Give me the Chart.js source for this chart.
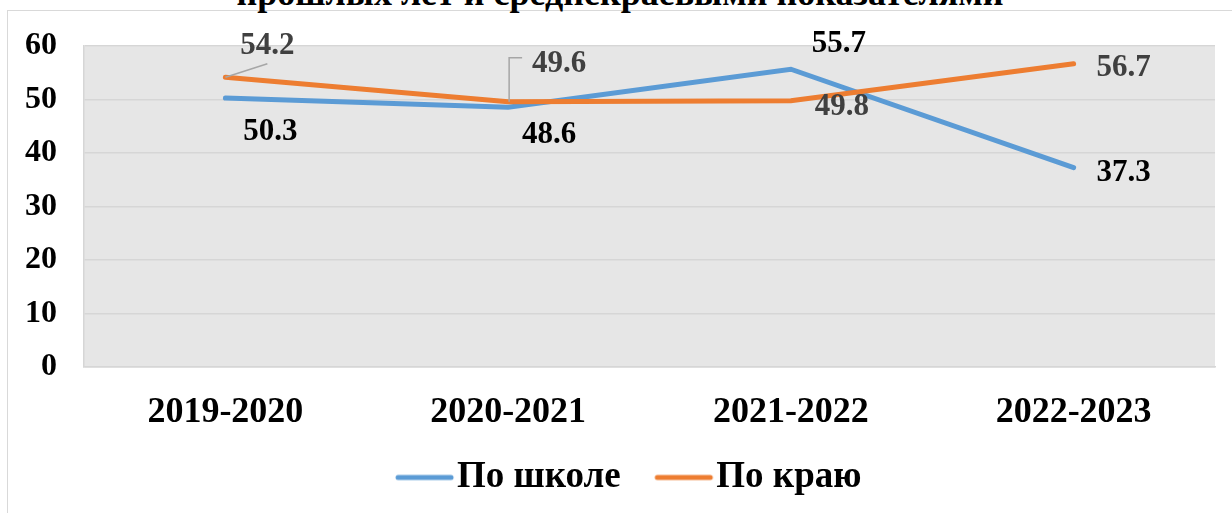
<!DOCTYPE html>
<html>
<head>
<meta charset="utf-8">
<script src="https://cdn.jsdelivr.net/npm/chart.js@4/dist/chart.umd.min.js"></script>
<style>
    html, body { margin: 0; padding: 0; background: #fff; overflow: hidden; }
    #wrap { position: relative; width: 1232px; height: 513px; overflow: hidden; }
    #frame { position: absolute; left: 7px; top: 10px; width: 1300px; height: 600px; border: 1.5px solid #d9d9d9; }
    #title { position: absolute; left: 0; top: -25px; width: 1240px; text-align: center;
             font: bold 36px/36px "Liberation Serif", serif; color: #000; white-space: nowrap; }
    #box { position: absolute; left: 0; top: 0; width: 1232px; height: 506px; }
</style>
</head>
<body>
<div id="wrap">
    <div id="frame"></div>
    <div id="title">прошлых лет и среднекраевыми показателями</div>
    <div id="box"><canvas id="chart"></canvas></div>
</div>
<script>
// data
const years = ['2019-2020', '2020-2021', '2021-2022', '2022-2023'];
const schoolValues = [50.3, 48.6, 55.7, 37.3];
const regionValues = [54.2, 49.6, 49.8, 56.7];
const yTicks = [0, 10, 20, 30, 40, 50, 60];

// label placement relative to each point (px)
const labelOffsets = [
    [[45, 32], [41, 26], [48, -27], [50, 3]],
    [[42, -33], [51, -40], [51, 4], [50, 2]]
];
const leaderLines = [
    [null, null, null, null],
    [[[0, 0], [42, -13.5]], [[1, 0], [1, -44], [14, -44]], null, null]
];
const labelColors = ['#000000', '#404040'];

const serif = '"Liberation Serif", "Times New Roman", serif';

// legend swatch: a short rounded line, shifted left inside its image so it sits close to the text
function legendLine(color) {
    const c = document.createElement('canvas');
    c.width = 80;
    c.height = 10;
    const g = c.getContext('2d');
    g.strokeStyle = color;
    g.lineWidth = 5;
    g.lineCap = 'round';
    g.beginPath();
    g.moveTo(22, 5);
    g.lineTo(75, 5);
    g.stroke();
    return c;
}

const plotBackground = {
    id: 'plotBackground',
    beforeDraw(chart) {
        const { ctx, chartArea: a } = chart;
        ctx.save();
        ctx.fillStyle = '#e6e6e6';
        ctx.fillRect(a.left, a.top, a.right - a.left, a.bottom - a.top);
        ctx.restore();
    }
};

// nudge the legend row to the right, as in the original
const legendShift = {
    id: 'legendShift',
    afterLayout(chart) {
        if (chart.legend) {
            chart.legend.left += 15;
            chart.legend.right += 15;
        }
    }
};

const valueLabels = {
    id: 'valueLabels',
    afterDatasetsDraw(chart) {
        const ctx = chart.ctx;
        ctx.save();
        chart.data.datasets.forEach((ds, di) => {
            const meta = chart.getDatasetMeta(di);
            meta.data.forEach((pt, i) => {
                const lines = leaderLines[di][i];
                if (lines) {
                    ctx.strokeStyle = '#a6a6a6';
                    ctx.lineWidth = 1.5;
                    ctx.beginPath();
                    lines.forEach(([lx, ly], k) => {
                        if (k === 0) ctx.moveTo(pt.x + lx, pt.y + ly);
                        else ctx.lineTo(pt.x + lx, pt.y + ly);
                    });
                    ctx.stroke();
                }
                const [dx, dy] = labelOffsets[di][i];
                ctx.font = 'bold 31px ' + serif;
                ctx.fillStyle = labelColors[di];
                ctx.textAlign = 'center';
                ctx.textBaseline = 'alphabetic';
                ctx.fillText(ds.data[i].toFixed(1), pt.x + dx, pt.y + dy + 10);
            });
        });
        ctx.restore();
    }
};

new Chart(document.getElementById('chart'), {
    type: 'line',
    data: {
        labels: years,
        datasets: [
            {
                label: 'По школе',
                data: schoolValues,
                borderColor: '#5b9bd5',
                backgroundColor: '#5b9bd5',
                borderWidth: 5,
                borderCapStyle: 'round',
                pointRadius: 0,
                pointStyle: legendLine('#5b9bd5'),
                tension: 0,
                order: 1
            },
            {
                label: 'По краю',
                data: regionValues,
                borderColor: '#ed7d31',
                backgroundColor: '#ed7d31',
                borderWidth: 5,
                borderCapStyle: 'round',
                pointRadius: 0,
                pointStyle: legendLine('#ed7d31'),
                tension: 0,
                order: 0
            }
        ]
    },
    options: {
        responsive: true,
        maintainAspectRatio: false,
        animation: false,
        events: [],
        layout: { padding: { top: 40, left: 10, right: 17, bottom: 0 } },
        scales: {
            x: {
                offset: true,
                grid: { display: false, offset: true },
                border: { display: true, color: '#d6d6d6', width: 1.5 },
                ticks: { color: '#000', padding: 16, font: { family: serif, size: 36, weight: 'bold' } },
                afterFit(scale) { scale.height = 60; }
            },
            y: {
                min: 0,
                max: 60,
                afterBuildTicks(scale) { scale.ticks = yTicks.map(v => ({ value: v })); },
                grid: { color: '#d6d6d6', lineWidth: 1.5, drawTicks: false },
                border: { display: true, color: '#d6d6d6', width: 1.5 },
                ticks: { color: '#000', padding: 27, font: { family: serif, size: 32, weight: 'bold' } },
                afterFit(scale) { scale.width = 74; }
            }
        },
        plugins: {
            legend: {
                position: 'bottom',
                labels: {
                    usePointStyle: true,
                    pointStyleWidth: 45,
                    boxHeight: 37,
                    padding: 32,
                    color: '#000',
                    font: { family: serif, size: 37, weight: 'bold' },
                    sort: (a, b) => a.datasetIndex - b.datasetIndex
                }
            },
            tooltip: { enabled: false }
        }
    },
    plugins: [plotBackground, legendShift, valueLabels]
});
</script>
</body>
</html>
